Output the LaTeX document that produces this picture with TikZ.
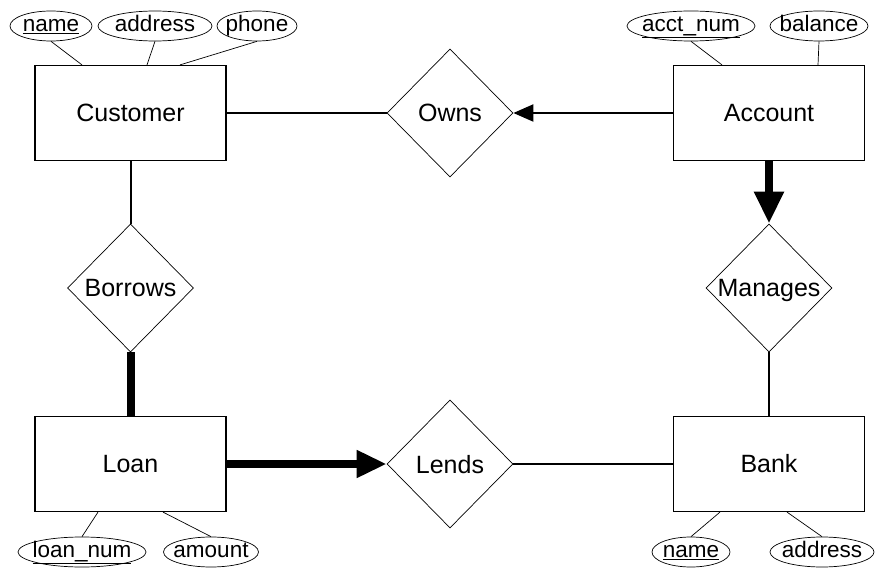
\documentclass[tikz,border=0pt]{standalone}
\usepackage{fontspec}
\setmainfont{Liberation Sans}
\usetikzlibrary{shapes.geometric,arrows.meta}

\begin{document}
\begin{tikzpicture}[
  x=1pt,
  y=-1pt,
  entity/.style={draw, line width=1.2pt, minimum width=191pt, minimum height=95pt,
    inner sep=0pt, font=\fontsize{25}{29}\selectfont},
  relation/.style={draw, diamond, line width=0.7pt, minimum width=126pt, minimum height=128pt,
    inner sep=0pt, text height=18pt, text depth=0pt, font=\fontsize{25}{29}\selectfont},
  attr/.style={draw, ellipse, line width=0.7pt, minimum height=30pt, inner sep=0pt,
    text height=16pt, text depth=4.5pt, font=\fontsize{22.5}{26}\selectfont},
  link/.style={line width=2pt},
  heavy/.style={line width=8pt},
  attrlink/.style={line width=0.7pt}
]
  % Canvas of the reference, y grows downwards.
  \useasboundingbox (0,0) rectangle (875,569);

  % Entity sets.
  \node[entity] (cust) at (130.5,113) {Customer};
  \node[entity] (acct) at (769,113) {Account};
  \node[entity] (loan) at (130.5,464) {Loan};
  \node[entity] (bank) at (769,464) {Bank};

  % Relationship sets.
  \node[relation] (owns) at (450,113) {Owns};
  \node[relation] (borrows) at (130.5,288) {Borrows};
  \node[relation] (manages) at (769,288) {Manages};
  \node[relation] (lends) at (450,464) {Lends};

  % Attributes.
  \node[attr, minimum width=82pt] (cname) at (51,26) {\makebox[0pt]{\underline{name}}};
  \node[attr, minimum width=114pt] (caddr) at (155,26) {\makebox[0pt]{address}};
  \node[attr, minimum width=80pt] (cphone) at (257,26) {\makebox[0pt]{phone}};
  \node[attr, minimum width=128pt] (anum) at (691,26) {\makebox[0pt]{\underline{acct\_num}}};
  \node[attr, minimum width=98pt] (abal) at (819,26) {\makebox[0pt]{balance}};
  \node[attr, minimum width=128pt] (lnum) at (82,552) {\makebox[0pt]{\underline{loan\_num}}};
  \node[attr, minimum width=95pt] (lamt) at (211,552) {\makebox[0pt]{amount}};
  \node[attr, minimum width=78pt] (bname) at (691,552) {\makebox[0pt]{\underline{name}}};
  \node[attr, minimum width=104pt] (baddr) at (822,552) {\makebox[0pt]{address}};

  % Attribute lines.
  \draw[attrlink] (cname.south) -- ([xshift=-48.5pt]cust.north);
  \draw[attrlink] (caddr.south) -- ([xshift=16.5pt]cust.north);
  \draw[attrlink] (cphone.south) -- ([xshift=49.5pt]cust.north);
  \draw[attrlink] (anum.south) -- ([xshift=-47pt]acct.north);
  \draw[attrlink] (abal.south) -- ([xshift=49pt]acct.north);
  \draw[attrlink] (lnum.north) -- ([xshift=-32.5pt]loan.south);
  \draw[attrlink] (lamt.north) -- ([xshift=32.5pt]loan.south);
  \draw[attrlink] (bname.north) -- ([xshift=-49pt]bank.south);
  \draw[attrlink] (baddr.north) -- ([xshift=18pt]bank.south);

  % Relationship lines.
  \draw[link] (cust) -- (owns);
  \draw[link, -{Triangle[length=20pt, width=17pt]}] (acct) -- (owns);
  \draw[link] (cust) -- (borrows);
  \draw[heavy] (borrows) -- (loan);
  \draw[heavy, -{Triangle[length=32pt, width=28pt]}] (acct) -- (manages);
  \draw[heavy, -{Triangle[length=30pt, width=26pt]}] (loan) -- (lends);
  \draw[link] (lends) -- (bank);
  \draw[link] (manages) -- (bank);
\end{tikzpicture}
\end{document}
